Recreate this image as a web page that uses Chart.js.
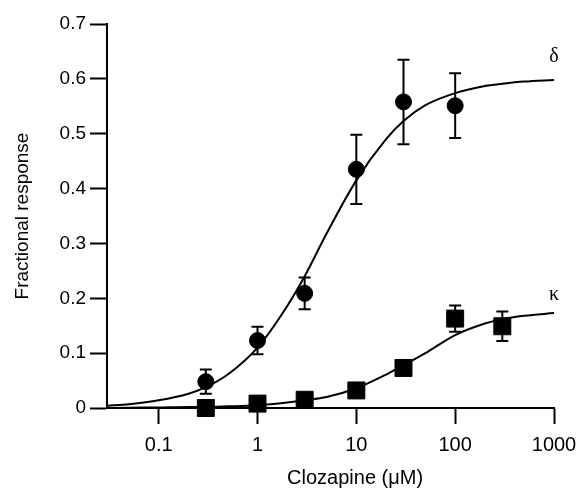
<!DOCTYPE html>
<html><head><meta charset="utf-8">
<script src="https://cdn.jsdelivr.net/npm/chart.js@4"></script>
<style>html,body{margin:0;padding:0;background:#fff}</style>
</head><body>
<canvas id="c" width="581" height="488" style="width:581px;height:488px;display:block"></canvas>
<script>
// ---- data ----
const xTickValues = [0.1, 1, 10, 100, 1000];
const yTickValues = [0, 0.1, 0.2, 0.3, 0.4, 0.5, 0.6, 0.7];

const deltaX = [0.3, 1, 3, 10, 30, 100];
const deltaY = [0.048, 0.123, 0.209, 0.435, 0.558, 0.551];
const deltaErr = [0.022, 0.025, 0.029, 0.063, 0.077, 0.059];

const kappaX = [0.3, 1, 3, 10, 30, 100, 300];
const kappaY = [0.0, 0.008, 0.015, 0.032, 0.073, 0.163, 0.149];
const kappaErr = [0, 0, 0, 0, 0, 0.024, 0.027];

const curveX = [0.03, 0.05, 0.1, 0.2, 0.3, 0.5, 1, 2, 3, 5, 10, 20, 30, 50, 100, 200, 300, 500, 1000];
const deltaCurve = [0.004, 0.007, 0.014, 0.026, 0.038, 0.061, 0.11, 0.186, 0.24, 0.318, 0.415, 0.49, 0.523, 0.552, 0.574, 0.587, 0.591, 0.595, 0.598];
const kappaCurve = [0.0, 0.0005, 0.001, 0.002, 0.002, 0.003, 0.005, 0.01, 0.014, 0.02, 0.036, 0.061, 0.078, 0.1, 0.133, 0.154, 0.162, 0.168, 0.173];

const seriesLabels = ['\u03b4', '\u03ba'];
const labelX = [1000, 1000];
const labelY = [0.64, 0.206];

const xTitle = 'Clozapine (\u03bcM)';
const yTitle = 'Fractional response';

// ---- build ----
const zip = (xs, ys) => xs.map((x, i) => ({x, y: ys[i]}));
const FONT = "'Liberation Sans', Arial, sans-serif";

const errorBars = {
  id: 'errorBars',
  beforeDatasetsDraw(chart) {
    const ctx = chart.ctx, xs = chart.scales.x, ys = chart.scales.y;
    const sets = [[deltaX, deltaY, deltaErr], [kappaX, kappaY, kappaErr]];
    ctx.save();
    ctx.strokeStyle = '#000';
    ctx.lineWidth = 2;
    for (const [X, Y, E] of sets) {
      X.forEach((xv, i) => {
        if (!E[i]) return;
        const px = xs.getPixelForValue(xv);
        const top = ys.getPixelForValue(Y[i] + E[i]);
        const bot = ys.getPixelForValue(Y[i] - E[i]);
        ctx.beginPath();
        ctx.moveTo(px, top); ctx.lineTo(px, bot);
        ctx.moveTo(px - 6, top); ctx.lineTo(px + 6, top);
        ctx.moveTo(px - 6, bot); ctx.lineTo(px + 6, bot);
        ctx.stroke();
      });
    }
    ctx.restore();
  }
};

const textLayer = {
  id: 'textLayer',
  afterDatasetsDraw(chart) {
    const ctx = chart.ctx, xs = chart.scales.x, ys = chart.scales.y;
    ctx.save();
    ctx.fillStyle = '#000';
    ctx.font = "20px 'Liberation Serif', 'DejaVu Serif', serif";
    ctx.textAlign = 'center';
    ctx.textBaseline = 'middle';
    seriesLabels.forEach((t, i) => {
      ctx.fillText(t, xs.getPixelForValue(labelX[i]), ys.getPixelForValue(labelY[i]));
    });
    // x-axis title (sits slightly right of the axis centre in the reference)
    ctx.font = "20px " + FONT;
    ctx.textBaseline = 'alphabetic';
    ctx.fillText(xTitle, xs.left + (xs.right - xs.left) * 0.555, chart.height - 4);
    ctx.restore();
  }
};

new Chart(document.getElementById('c'), {
  type: 'scatter',
  data: {
    datasets: [
      {label: 'delta points', data: zip(deltaX, deltaY), pointStyle: 'circle', pointRadius: 8,
       backgroundColor: '#000', borderColor: '#000', showLine: false, clip: false},
      {label: 'kappa points', data: zip(kappaX, kappaY), pointStyle: 'rect', pointRadius: 12,
       backgroundColor: '#000', borderColor: '#000', showLine: false, clip: false},
      {label: 'delta fit', data: zip(curveX, deltaCurve), showLine: true, pointRadius: 0,
       borderColor: '#000', borderWidth: 2, cubicInterpolationMode: 'monotone', fill: false},
      {label: 'kappa fit', data: zip(curveX, kappaCurve), showLine: true, pointRadius: 0,
       borderColor: '#000', borderWidth: 2, cubicInterpolationMode: 'monotone', fill: false}
    ]
  },
  options: {
    responsive: false,
    animation: false,
    layout: {padding: {top: 24, right: 27, left: 0, bottom: 0}},
    plugins: {legend: {display: false}, tooltip: {enabled: false}},
    scales: {
      x: {
        type: 'logarithmic',
        min: 0.03, max: 1000,
        afterBuildTicks(s) { s.ticks = xTickValues.map(v => ({value: v})); },
        afterFit(s) { s.height = 80; s.paddingLeft = 0; s.paddingRight = 0; },
        border: {display: true, color: '#000', width: 2},
        grid: {display: true, drawOnChartArea: false, drawTicks: true, tickLength: 16, tickColor: '#000', tickWidth: 2, color: '#000'},
        ticks: {color: '#000', font: {family: FONT, size: 20}, padding: 9, maxRotation: 0, autoSkip: false,
          callback: (v) => String(v)},
        title: {display: false}
      },
      y: {
        type: 'linear',
        min: 0, max: 0.7,
        afterBuildTicks(s) { s.ticks = yTickValues.map(v => ({value: v})); },
        afterFit(s) { s.width = 107; s.paddingTop = 0; s.paddingBottom = 0; },
        border: {display: true, color: '#000', width: 2},
        grid: {display: true, drawOnChartArea: false, drawTicks: true, tickLength: 17, tickColor: '#000', tickWidth: 2, color: '#000'},
        ticks: {color: '#000', font: {family: FONT, size: 19}, padding: 4,
          callback: (v) => String(Math.round(v * 10) / 10)},
        title: {display: true, text: yTitle, color: '#000', font: {family: FONT, size: 19}, padding: {top: 11, bottom: 0}}
      }
    }
  },
  plugins: [errorBars, textLayer]
});
</script>
</body></html>
